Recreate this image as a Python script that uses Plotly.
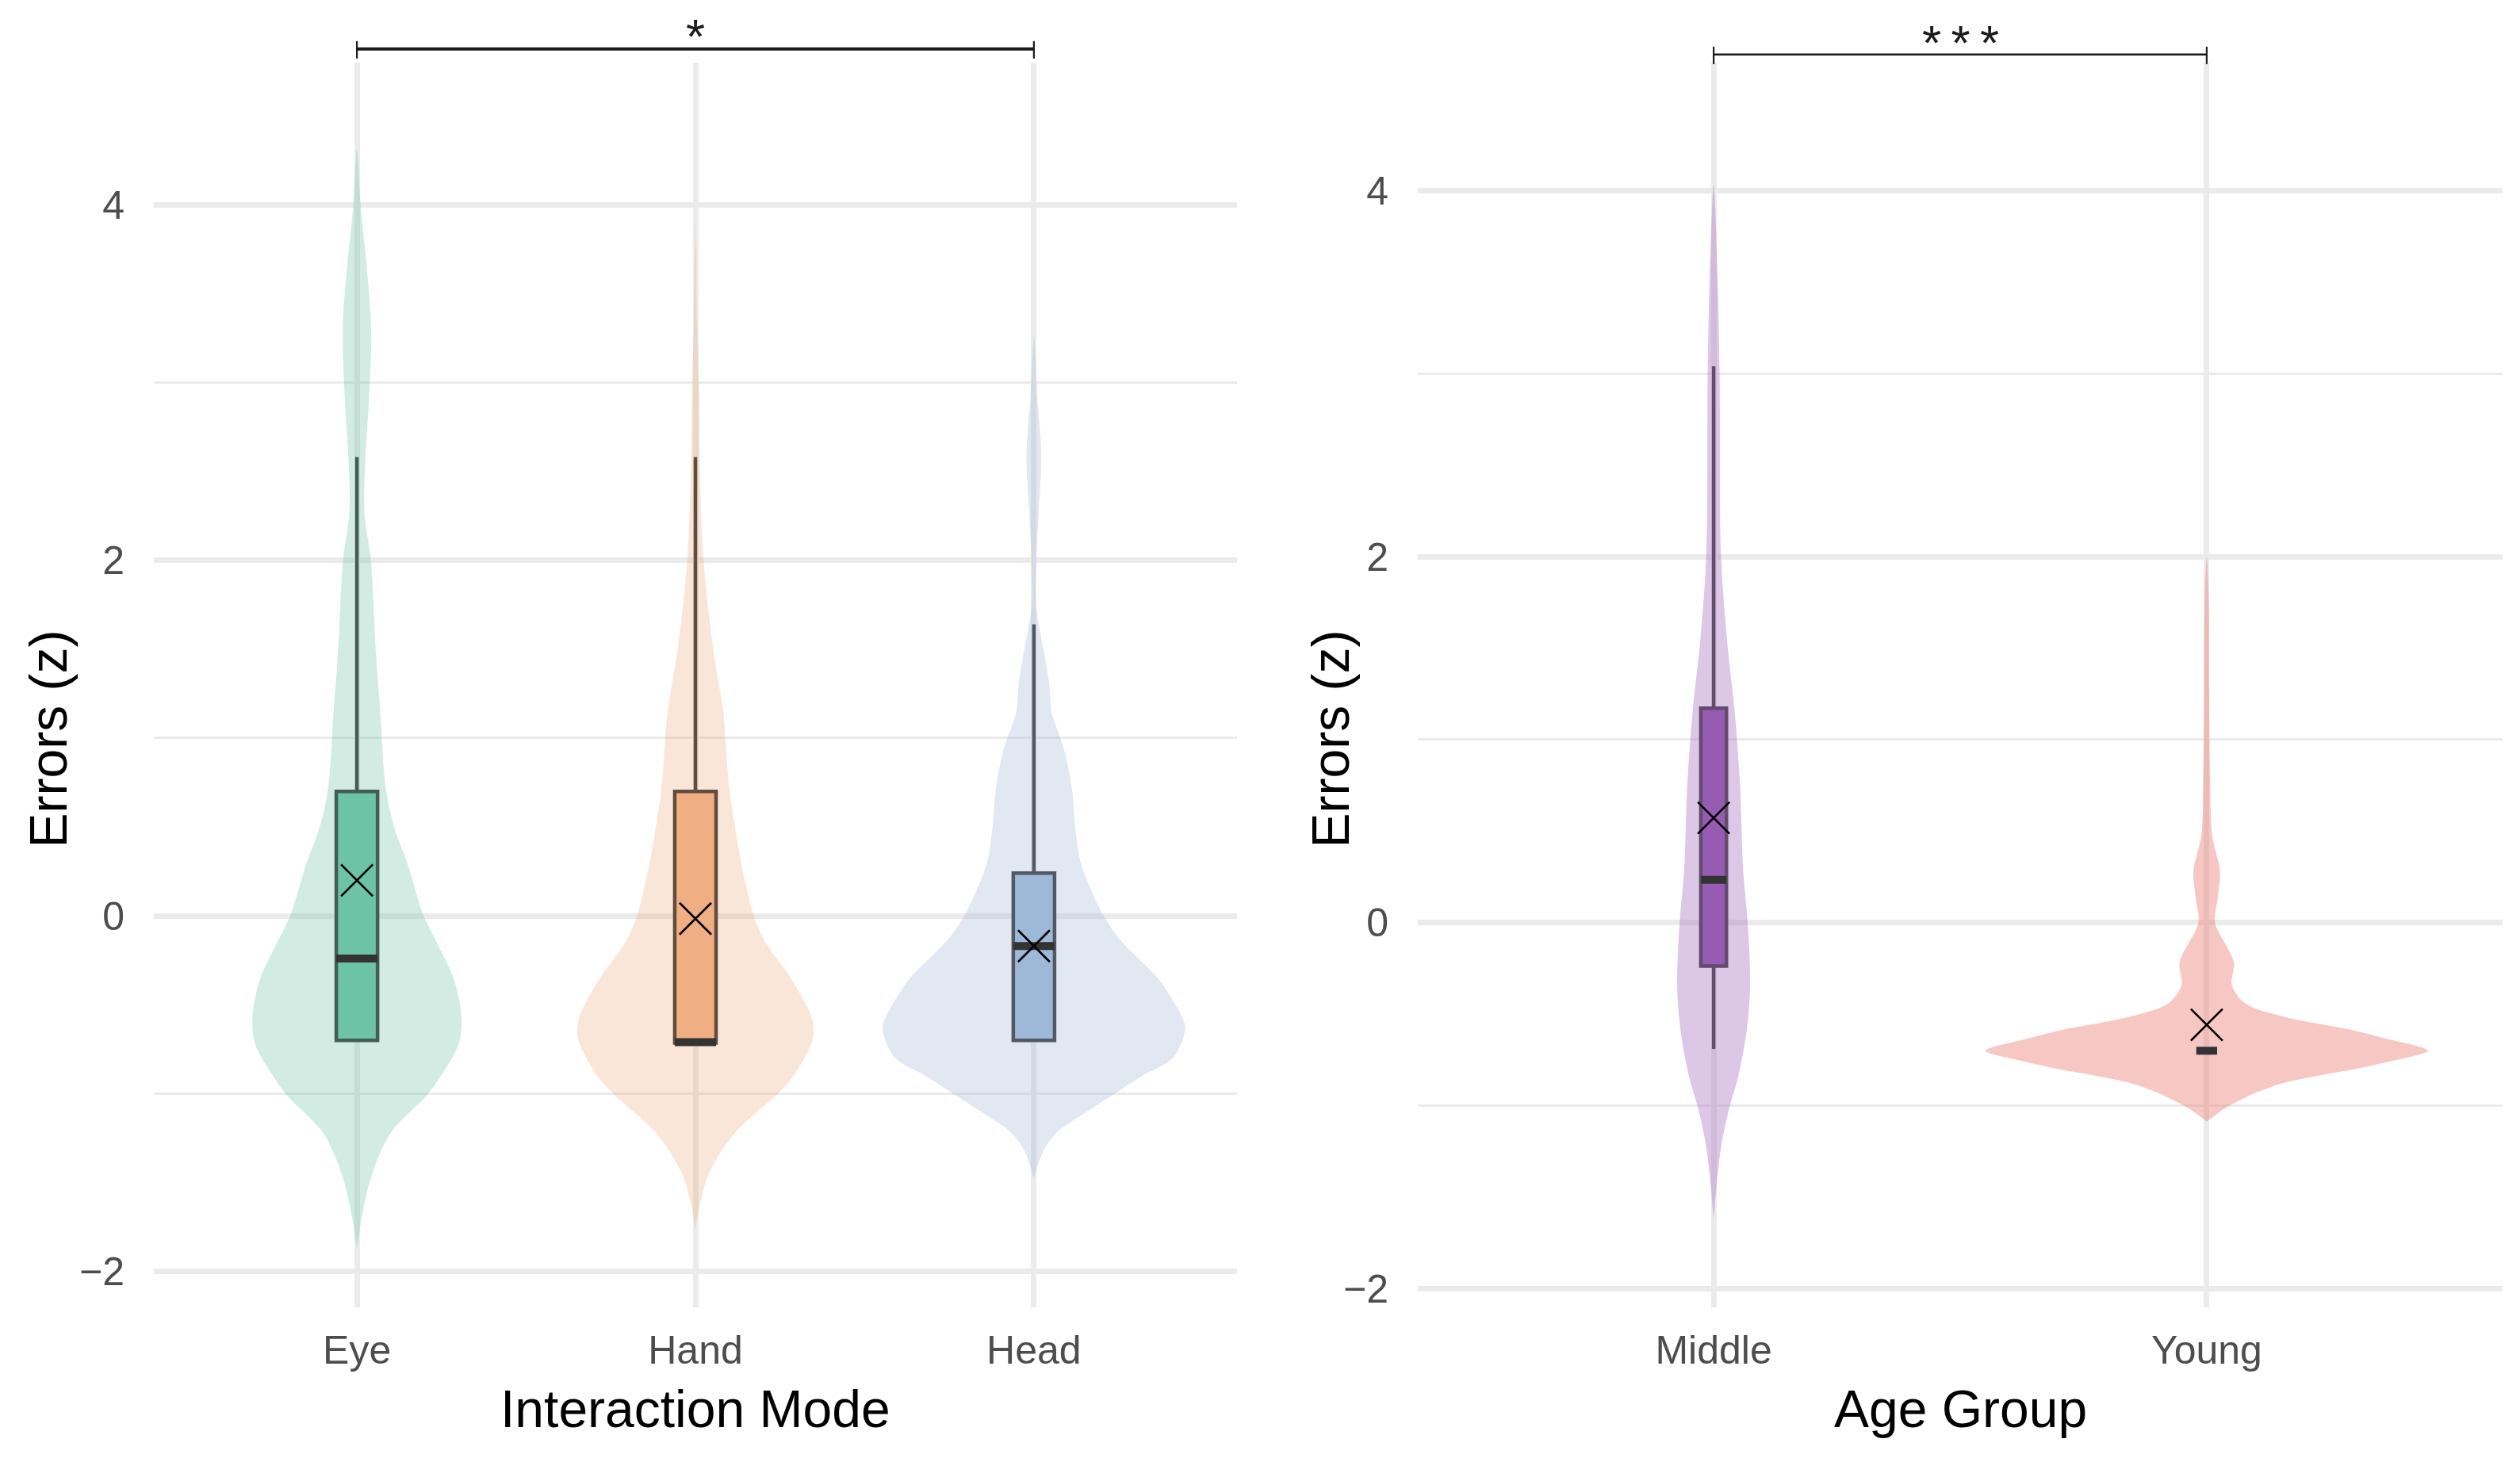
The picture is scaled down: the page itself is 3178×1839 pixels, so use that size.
import plotly.graph_objects as go
from plotly.subplots import make_subplots

W, H = 3178, 1839

# ---------------- data: panel A (Interaction Mode) ----------------
mode_labels = ["Eye", "Hand", "Head"]

# violin outlines: y values and half-widths (category units)
eye_y = [4.31, 3.97, 3.71, 3.31, 2.92, 2.53, 2.27, 2.0, 1.48, 1.15, 0.72, 0.50, 0.29, 0.0, -0.143, -0.36, -0.575, -0.726, -0.90, -1.006, -1.22, -1.44, -1.65, -1.87]
eye_w = [0.0, 0.012, 0.026, 0.042, 0.036, 0.024, 0.022, 0.041, 0.056, 0.069, 0.085, 0.11, 0.15, 0.197, 0.234, 0.287, 0.309, 0.30, 0.248, 0.208, 0.10, 0.047, 0.019, 0.0]
hand_y = [3.92, 3.31, 2.92, 2.53, 2.0, 1.48, 1.15, 0.72, 0.50, 0.29, 0.0, -0.14, -0.36, -0.575, -0.69, -0.90, -1.006, -1.22, -1.44, -1.65, -1.76]
hand_w = [0.0, 0.005, 0.011, 0.013, 0.024, 0.054, 0.082, 0.10, 0.117, 0.136, 0.173, 0.204, 0.285, 0.344, 0.347, 0.29, 0.24, 0.117, 0.042, 0.01, 0.0]
head_y = [3.26, 2.92, 2.59, 2.27, 2.0, 1.75, 1.48, 1.31, 1.15, 0.93, 0.72, 0.50, 0.29, 0.0, -0.14, -0.36, -0.575, -0.64, -0.80, -0.90, -1.006, -1.11, -1.22, -1.33, -1.48]
head_w = [0.0, 0.01, 0.022, 0.014, 0.007, 0.006, 0.03, 0.045, 0.052, 0.09, 0.112, 0.122, 0.14, 0.206, 0.257, 0.37, 0.439, 0.447, 0.41, 0.32, 0.234, 0.15, 0.067, 0.026, 0.0]

mode_q1 = [-0.70, -0.715, -0.70]
mode_median = [-0.24, -0.71, -0.17]
mode_q3 = [0.70, 0.70, 0.24]
mode_lower = [-0.70, -0.715, -0.70]
mode_upper = [2.58, 2.58, 1.64]
mode_mean = [0.20, -0.016, -0.17]
mode_sig = "*"

# ---------------- data: panel B (Age Group) ----------------
age_labels = ["Middle", "Young"]

mid_y = [4.03, 3.52, 3.01, 2.0, 1.518, 1.17, 0.774, 0.278, 0.0, -0.34, -0.59, -0.84, -1.0, -1.21, -1.46, -1.63]
mid_w = [0.0, 0.008, 0.012, 0.015, 0.028, 0.042, 0.053, 0.06, 0.069, 0.074, 0.067, 0.05, 0.033, 0.016, 0.005, 0.0]
young_y = [2.0, 1.77, 1.27, 0.774, 0.476, 0.278, 0.13, 0.0, -0.218, -0.34, -0.44, -0.516, -0.59, -0.635, -0.70, -0.75, -0.79, -0.89, -1.0, -1.087]
young_w = [0.0, 0.004, 0.005, 0.007, 0.011, 0.027, 0.022, 0.017, 0.055, 0.051, 0.077, 0.159, 0.30, 0.365, 0.449, 0.385, 0.32, 0.138, 0.046, 0.0]

age_q1 = [-0.237, -0.70]
age_median = [0.234, -0.70]
age_q3 = [1.172, -0.70]
age_lower = [-0.69, -0.70]
age_upper = [3.04, -0.70]
age_mean = [0.572, -0.558]
age_sig = "*\u2009*\u2009*"

# ---------------- styles ----------------
mode_violin_fill = ["rgba(105,192,162,0.30)", "rgba(235,155,103,0.25)", "rgba(155,178,212,0.30)"]
mode_box_fill = ["#6EC4A7", "#F2B68C", "#A0BBD9"]
age_violin_fill = ["rgba(167,115,192,0.40)", "rgba(235,115,107,0.40)"]
age_box_fill = ["#8E4BAA", "#F6C6C3"]
mode_box_width = [0.122, 0.122, 0.122]
age_box_width = [0.052, 0.042]

OUTLINE = "#333333"
GRID = "#EBEBEB"
FONT = "Liberation Sans, Arial, sans-serif"

# plot-area geometry (pixels in the 3178x1839 page)
L1, R1 = 194, 1560
L2, R2 = 1788, 3156
TOP, BOT = 79, 1653
dom_y = [1 - BOT / H, 1 - TOP / H]

fig = make_subplots(rows=1, cols=2)


def violin_xy(center, ys, ws):
    xs = [center + w for w in ws] + [center - w for w in reversed(ws)]
    yy = list(ys) + list(reversed(ys))
    return xs, yy


def add_panel(col, ys_list, ws_list, vfill, bfill, bwidth, q1, med, q3, lo, up, mean):
    for i, (ys, ws) in enumerate(zip(ys_list, ws_list)):
        xs, yy = violin_xy(i, ys, ws)
        fig.add_trace(go.Scatter(x=xs, y=yy, mode="lines", fill="toself",
                                 fillcolor=vfill[i],
                                 line=dict(width=0, shape="spline", smoothing=0.9),
                                 hoverinfo="skip", showlegend=False), row=1, col=col)
    for i in range(len(ys_list)):
        fig.add_trace(go.Box(x=[i], q1=[q1[i]], median=[med[i]], q3=[q3[i]],
                             lowerfence=[lo[i]], upperfence=[up[i]],
                             width=bwidth[i], fillcolor=bfill[i],
                             line=dict(color=OUTLINE, width=4.5), whiskerwidth=0,
                             boxpoints=False, hoverinfo="skip", showlegend=False),
                      row=1, col=col)
        fig.add_trace(go.Scatter(x=[i - bwidth[i] / 2, i + bwidth[i] / 2], y=[med[i], med[i]],
                                 mode="lines", line=dict(color=OUTLINE, width=10),
                                 hoverinfo="skip", showlegend=False), row=1, col=col)
    fig.add_trace(go.Scatter(x=list(range(len(mean))), y=mean, mode="markers",
                             marker=dict(symbol="x-thin-open", size=40, color="black",
                                         line=dict(width=2.6, color="black")),
                             hoverinfo="skip", showlegend=False), row=1, col=col)


add_panel(1, [eye_y, hand_y, head_y], [eye_w, hand_w, head_w], mode_violin_fill, mode_box_fill,
          mode_box_width, mode_q1, mode_median, mode_q3, mode_lower, mode_upper, mode_mean)
add_panel(2, [mid_y, young_y], [mid_w, young_w], age_violin_fill, age_box_fill,
          age_box_width, age_q1, age_median, age_q3, age_lower, age_upper, age_mean)

xcommon = dict(showgrid=True, gridcolor=GRID, gridwidth=6.5, zeroline=False, showline=False,
               ticks="", tickfont=dict(family=FONT, size=50, color="#4D4D4D"),
               ticklabelstandoff=20)
ycommon = dict(showgrid=True, gridcolor=GRID, gridwidth=6.5, zeroline=False, showline=False,
               ticks="", tickvals=[-2, 0, 2, 4], ticktext=["\u22122", "0", "2", "4"],
               tickfont=dict(family=FONT, size=50, color="#4D4D4D"),
               ticklabelstandoff=36,
               minor=dict(tickvals=[-1, 1, 3], showgrid=True, gridcolor=GRID, gridwidth=3, ticks=""))

fig.update_xaxes(xcommon, range=[-0.6, 2.6], tickvals=[0, 1, 2], ticktext=mode_labels,
                 domain=[L1 / W, R1 / W], row=1, col=1)
fig.update_xaxes(xcommon, range=[-0.6, 1.6], tickvals=[0, 1], ticktext=age_labels,
                 domain=[L2 / W, R2 / W], row=1, col=2)
fig.update_yaxes(ycommon, range=[-2.20, 4.80], domain=dom_y, row=1, col=1)
fig.update_yaxes(ycommon, range=[-2.10, 4.70], domain=dom_y, row=1, col=2)


# significance brackets (y in page pixels -> paper)
def px2paper(py):
    return 1 - py / H


for xref, x0, x1, bar_px, lw, label, label_px in [
        ("x", 0, len(mode_labels) - 1, 62, 4, mode_sig, 46),
        ("x2", 0, len(age_labels) - 1, 69, 2.6, age_sig, 54)]:
    fig.add_shape(type="line", xref=xref, yref="paper", x0=x0, x1=x1,
                  y0=px2paper(bar_px), y1=px2paper(bar_px),
                  line=dict(color="#1a1a1a", width=lw))
    for xe in (x0, x1):
        fig.add_shape(type="line", xref=xref, yref="paper", x0=xe, x1=xe,
                      y0=px2paper(bar_px - 10), y1=px2paper(bar_px + 12),
                      line=dict(color="#1a1a1a", width=2.2))
    fig.add_annotation(xref=xref, yref="paper", x=(x0 + x1) / 2, y=px2paper(label_px),
                       text=label, showarrow=False, xanchor="center", yanchor="middle",
                       font=dict(family=FONT, size=62, color="#1a1a1a"))

# axis titles
title_font = dict(family=FONT, size=66, color="black")
fig.add_annotation(xref="paper", yref="paper", x=(L1 + R1) / 2 / W, y=px2paper(1782),
                   text="Interaction Mode", showarrow=False, xanchor="center", yanchor="middle",
                   font=title_font)
fig.add_annotation(xref="paper", yref="paper", x=(L2 + R2) / 2 / W, y=px2paper(1782),
                   text="Age Group", showarrow=False, xanchor="center", yanchor="middle",
                   font=title_font)
fig.add_annotation(xref="paper", yref="paper", x=61 / W, y=px2paper(935),
                   text="Errors (z)", showarrow=False, textangle=-90,
                   xanchor="center", yanchor="middle", font=title_font)
fig.add_annotation(xref="paper", yref="paper", x=1678 / W, y=px2paper(935),
                   text="Errors (z)", showarrow=False, textangle=-90,
                   xanchor="center", yanchor="middle", font=title_font)

fig.update_layout(width=W, height=H, margin=dict(l=0, r=0, t=0, b=0),
                  paper_bgcolor="white", plot_bgcolor="white", showlegend=False,
                  font=dict(family=FONT))

fig.write_html("out.html", config={"displayModeBar": False},
               post_script="document.body.style.margin='0';document.body.style.overflow='hidden';")
